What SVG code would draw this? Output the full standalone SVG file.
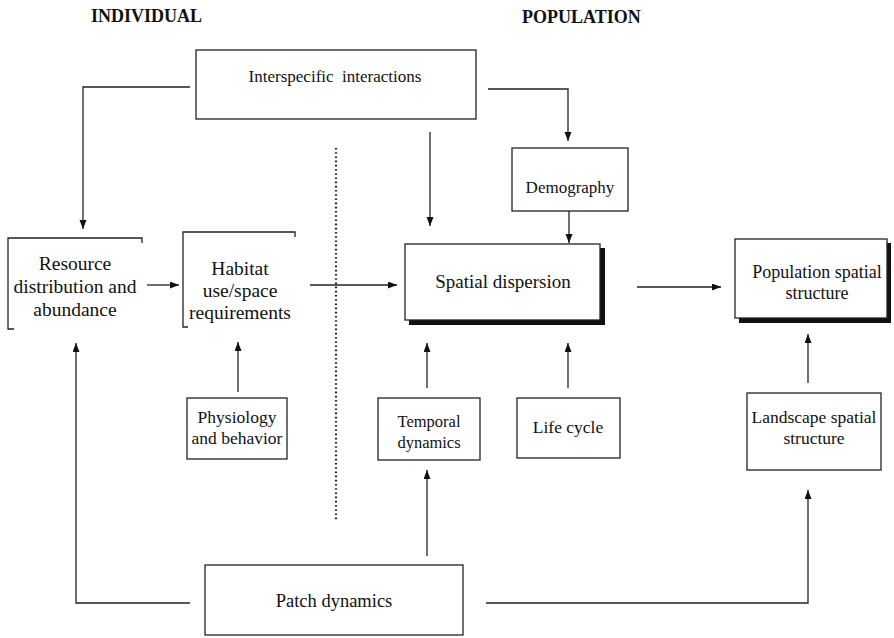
<svg xmlns="http://www.w3.org/2000/svg" width="894" height="638" viewBox="0 0 894 638">
<style>
text{font-family:"Liberation Serif","Times New Roman",serif;fill:#111;text-anchor:middle}
.h{font-weight:bold;font-size:18px;text-anchor:start}
.box{fill:#fff;stroke:#222;stroke-width:1.3}
.br{fill:none;stroke:#222;stroke-width:1.3}
.sh{fill:#111}
.c path{fill:none;stroke:#222;stroke-width:1.3}
.dot{stroke:#222;stroke-width:2.2;stroke-dasharray:1.6 2.6;fill:none}
</style>
<defs>
<marker id="a" markerUnits="userSpaceOnUse" markerWidth="10" markerHeight="8" refX="9" refY="3.5" orient="auto">
<path d="M0,0 L9,3.5 L0,7 z" fill="#111"/>
</marker>
</defs>
<rect width="894" height="638" fill="#fff"/>
<text class="h" x="91" y="22">INDIVIDUAL</text>
<text class="h" x="522" y="23">POPULATION</text>
<path class="dot" d="M336,148 V520"/>
<g id="interspecific">
<rect class="box" x="196" y="50" width="280" height="69"/>
<text x="335" y="82" font-size="17" xml:space="preserve">Interspecific  interactions</text>
</g>
<g id="demography">
<rect class="box" x="512" y="148" width="116" height="63"/>
<text x="570" y="193" font-size="17">Demography</text>
</g>
<g id="resource">
<path class="br" d="M142,243 V238 H8 V329 H14"/>
<text x="75" y="270" font-size="19.5">Resource</text>
<text x="75" y="293" font-size="19.5">distribution and</text>
<text x="75" y="316" font-size="19.5">abundance</text>
</g>
<g id="habitat">
<path class="br" d="M295,237 V232 H183 V327 H188"/>
<text x="240" y="275" font-size="19.5">Habitat</text>
<text x="240" y="297" font-size="19.5">use/space</text>
<text x="240" y="319" font-size="19.5">requirements</text>
</g>
<g id="spatial">
<rect class="sh" x="409" y="248" width="196" height="77"/>
<rect class="box" x="405" y="244" width="195" height="76"/>
<text x="503" y="288" font-size="19">Spatial dispersion</text>
</g>
<g id="population">
<rect class="sh" x="739" y="243" width="152" height="80"/>
<rect class="box" x="735" y="239" width="152" height="79"/>
<text x="817" y="278" font-size="18">Population spatial</text>
<text x="817" y="299" font-size="18">structure</text>
</g>
<g id="physiology">
<rect class="box" x="187" y="398" width="100" height="61"/>
<text x="237" y="423" font-size="17.5">Physiology</text>
<text x="237" y="444" font-size="17.5">and behavior</text>
</g>
<g id="temporal">
<rect class="box" x="378" y="398" width="102" height="62"/>
<text x="429" y="427" font-size="16.5">Temporal</text>
<text x="429" y="448" font-size="16.5">dynamics</text>
</g>
<g id="lifecycle">
<rect class="box" x="517" y="398" width="103" height="60"/>
<text x="568" y="433" font-size="17.5">Life cycle</text>
</g>
<g id="landscape">
<rect class="box" x="747" y="393" width="134" height="77"/>
<text x="814" y="423" font-size="17.5">Landscape spatial</text>
<text x="814" y="444" font-size="17.5">structure</text>
</g>
<g id="patch">
<rect class="box" x="205" y="565" width="258" height="70"/>
<text x="334" y="607" font-size="18.5">Patch dynamics</text>
</g>
<g class="c" id="connectors">
<path d="M190,87 H83 V229" marker-end="url(#a)"/>
<path d="M488,89 H568 V141" marker-end="url(#a)"/>
<path d="M430,132 V226" marker-end="url(#a)"/>
<path d="M569,211 V243" marker-end="url(#a)"/>
<path d="M147,285 H179" marker-end="url(#a)"/>
<path d="M310,285 H397" marker-end="url(#a)"/>
<path d="M637,287 H721" marker-end="url(#a)"/>
<path d="M238,392 V342" marker-end="url(#a)"/>
<path d="M427,388 V343" marker-end="url(#a)"/>
<path d="M568,388 V343" marker-end="url(#a)"/>
<path d="M808,383 V334" marker-end="url(#a)"/>
<path d="M190,603 H76 V343" marker-end="url(#a)"/>
<path d="M427,556 V470" marker-end="url(#a)"/>
<path d="M486,603 H808 V490" marker-end="url(#a)"/>
</g>
</svg>
